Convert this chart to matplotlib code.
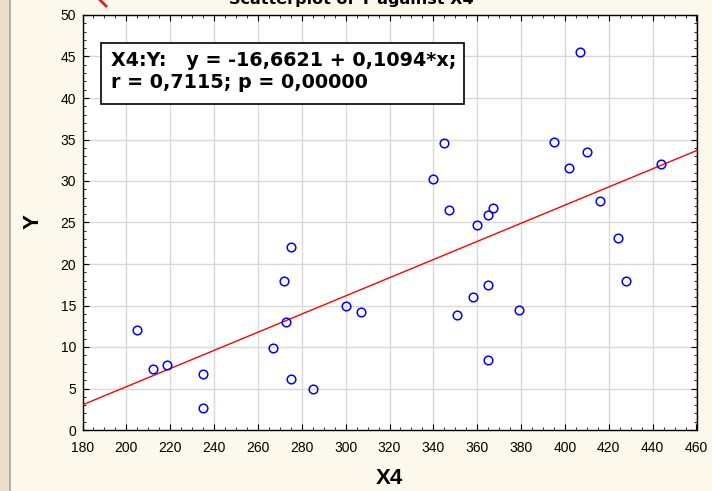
import matplotlib
matplotlib.use("Agg")
import matplotlib.pyplot as plt
import numpy as np
from matplotlib.patches import Rectangle
from matplotlib.ticker import MultipleLocator

# datos
x4 = [205, 212, 218.5, 235, 235, 267, 272, 275, 273, 275, 285, 300, 307,
      347, 351, 358, 360, 365, 367, 365, 365, 379, 424, 428, 416,
      407, 345, 340, 395, 410, 402, 444]
y = [12.1, 7.3, 7.8, 6.8, 2.7, 9.9, 18.0, 22.1, 13.0, 6.2, 4.9, 15.0, 14.2,
     26.5, 13.8, 16.0, 24.7, 25.9, 26.7, 17.5, 8.4, 14.5, 23.1, 17.9, 27.6,
     45.6, 34.6, 30.2, 34.7, 33.5, 31.6, 32.0]
a0 = -16.6621
a1 = 0.1094
r = 0.7115
p = 0.00000
xlim = [180, 460]
ylim = [0, 50]

plt.rcParams['font.family'] = ['Liberation Sans', 'DejaVu Sans']
W, H = 712, 491
fig = plt.figure(figsize=(W / 100., H / 100.), dpi=100, facecolor='#FDF8EC')

# franja izquierda
fig.patches.append(Rectangle((0, 0), 9. / W, 1, transform=fig.transFigure,
                             color='#EADFCB', zorder=0))
fig.lines.append(plt.Line2D([9.5 / W, 9.5 / W], [0, 1], transform=fig.transFigure,
                            color='#B8B2A8', lw=1.5))
fig.lines.append(plt.Line2D([100. / W, 106. / W], [1, 1 - 6. / H], transform=fig.transFigure,
                            color='#E02020', lw=2))

ax = fig.add_axes([82.5 / W, 1 - 430. / H, 614. / W, 415. / H])
ax.set_facecolor('white')
ax.set_xlim(xlim)
ax.set_ylim(ylim)
ax.xaxis.set_major_locator(MultipleLocator(20))
ax.xaxis.set_minor_locator(MultipleLocator(5))
ax.yaxis.set_major_locator(MultipleLocator(5))
ax.yaxis.set_minor_locator(MultipleLocator(1))
ax.tick_params(which='both', direction='in', top=True, right=True, labelsize=10,
               color='black')
ax.tick_params(which='major', length=4, width=0.8)
ax.tick_params(which='minor', length=2, width=0.6)
ax.tick_params(axis='x', which='major', pad=8)
ax.tick_params(axis='y', which='major', pad=4.5)
ax.grid(True, which='major', color='#D9D9D9', linewidth=1)
ax.set_axisbelow(True)
for s in ax.spines.values():
    s.set_linewidth(1)

# recta de regresion
xl = np.array(xlim, dtype=float)
ax.plot(xl, a0 + a1 * xl, '-', color='#FF0000', lw=1, zorder=3)
ax.plot(x4, y, 'o', mfc='none', mec='#0000FF', mew=1.1, ms=6.2, zorder=4)

fig.text(389. / W, 1 - 479. / H, 'X4', fontsize=16, fontweight='bold',
         ha='center', va='center')
fig.text(33. / W, 1 - 222. / H, 'Y', fontsize=16, fontweight='bold',
         ha='center', va='center', rotation=90)

# cuadro con la ecuacion
fig.patches.append(Rectangle((101. / W, 1 - 103.5 / H), 363. / W, 60. / H,
                             transform=fig.transFigure, facecolor='white',
                             edgecolor='black', lw=1.2, zorder=5))
lin1 = 'X4:Y:   y = %s + %s*x;' % (('%.4f' % a0).replace('.', ','),
                                   ('%.4f' % a1).replace('.', ','))
lin2 = 'r = %s; p = %s' % (('%.4f' % r).replace('.', ','),
                           ('%.5f' % p).replace('.', ','))
fig.text(111. / W, 1 - 66. / H, lin1, fontsize=13.8, fontweight='bold',
         family='DejaVu Sans', ha='left', va='baseline', zorder=6)
fig.text(111. / W, 1 - 88.5 / H, lin2, fontsize=13.8, fontweight='bold',
         family='DejaVu Sans', ha='left', va='baseline', zorder=6)

fig.text(351. / W, 1 - 4. / H, 'Scatterplot of Y against X4', fontsize=11.5,
         fontweight='bold', family='DejaVu Sans', ha='center', va='baseline')

plt.savefig('out.png', dpi=100, facecolor=fig.get_facecolor())
